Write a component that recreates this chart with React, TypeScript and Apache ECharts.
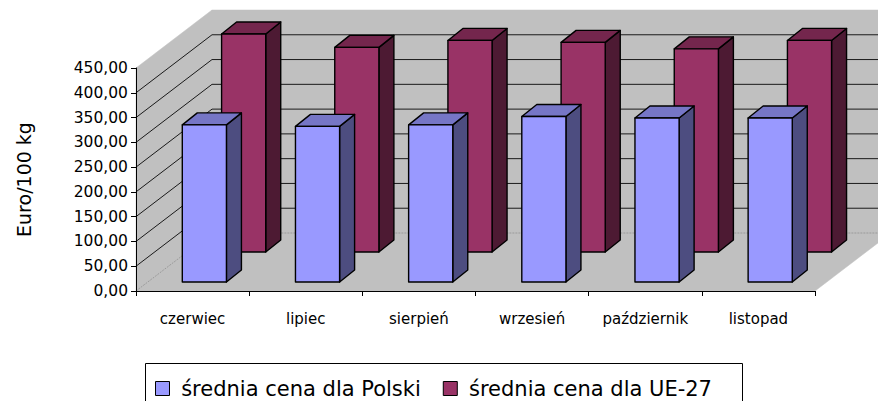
import React, { useEffect, useRef } from 'react';
import * as echarts from 'echarts';

// ---- data ----
const categories = ['czerwiec', 'lipiec', 'sierpień', 'wrzesień', 'październik', 'listopad'];
const polskaValues = [317, 314, 317, 334, 331, 331];
const ue27Values = [440, 413, 427, 423, 410, 427];
const seriesNames = ['średnia cena dla Polski', 'średnia cena dla UE-27'];
const yMin = 0;
const yMax = 450;
const yInterval = 50;
const yTitle = 'Euro/100 kg';

// ---- 3D look ----
const DEPTH_X = 76;
const DEPTH_Y = -58;
const BAR_DX = 15;
const BAR_DY = -12;
const WALL = '#C0C0C0';
const FONT = 'DejaVu Sans';

const blueColors = { front: '#9999FF', top: '#7676C6', side: '#4D4D80' };
const redColors = { front: '#993366', top: '#74264D', side: '#4D1A33' };

function barRenderer(frontFrac: number, colors: { front: string; top: string; side: string }) {
  return (params: any, api: any) => {
    const i = api.value(0);
    const v = api.value(1);
    const base = api.coord([i, 0]);
    const topPt = api.coord([i, v]);
    const band = api.size([1, 0])[0];
    const half = band * 0.195;
    const ox = frontFrac * DEPTH_X;
    const oy = frontFrac * DEPTH_Y;
    const L = base[0] - half + ox;
    const R = base[0] + half + ox;
    const B = base[1] + oy;
    const T = topPt[1] + oy;
    const stroke = { stroke: '#000', lineWidth: 1.4, lineJoin: 'round' };
    return {
      type: 'group',
      children: [
        {
          type: 'polygon',
          shape: { points: [[R, T], [R + BAR_DX, T + BAR_DY], [R + BAR_DX, B + BAR_DY], [R, B]] },
          style: { fill: colors.side, ...stroke },
        },
        {
          type: 'polygon',
          shape: { points: [[L, T], [R, T], [R + BAR_DX, T + BAR_DY], [L + BAR_DX, T + BAR_DY]] },
          style: { fill: colors.top, ...stroke },
        },
        {
          type: 'polygon',
          shape: { points: [[L, T], [R, T], [R, B], [L, B]] },
          style: { fill: colors.front, ...stroke },
        },
      ],
    };
  };
}

const renderWalls = (params: any, api: any) => {
  const cs = params.coordSys;
  const x0 = cs.x;
  const x1 = cs.x + cs.width;
  const yt = cs.y;
  const yb = cs.y + cs.height;
  const wallStyle = { fill: WALL, stroke: WALL, lineWidth: 0.5 };
  const children: any[] = [];
  children.push({
    type: 'polygon',
    shape: { points: [[x0 + DEPTH_X, yt + DEPTH_Y], [x1 + DEPTH_X + 40, yt + DEPTH_Y], [x1 + DEPTH_X + 40, yb + DEPTH_Y], [x0 + DEPTH_X, yb + DEPTH_Y]] },
    style: wallStyle,
  });
  children.push({
    type: 'polygon',
    shape: { points: [[x0, yb], [x1, yb], [x1 + DEPTH_X, yb + DEPTH_Y], [x0 + DEPTH_X, yb + DEPTH_Y]] },
    style: wallStyle,
  });
  children.push({
    type: 'polygon',
    shape: { points: [[x0, yt], [x0 + DEPTH_X, yt + DEPTH_Y], [x0 + DEPTH_X, yb + DEPTH_Y], [x0, yb]] },
    style: wallStyle,
  });
  for (let v = yMin + yInterval; v < yMax; v += yInterval) {
    const y = api.coord([0, v])[1];
    children.push({
      type: 'polyline',
      shape: { points: [[x0, y], [x0 + DEPTH_X, y + DEPTH_Y], [x1 + DEPTH_X + 40, y + DEPTH_Y]] },
      style: { stroke: '#1a1a1a', lineWidth: 1, fill: null },
    });
  }
  children.push({
    type: 'polyline',
    shape: { points: [[x0, yb], [x0 + DEPTH_X, yb + DEPTH_Y], [x1 + DEPTH_X + 40, yb + DEPTH_Y]] },
    style: { stroke: '#9a9a9a', lineWidth: 1, lineDash: [2, 1], fill: null },
  });
  return { type: 'group', children };
};

export default function App() {
  const ref = useRef<HTMLDivElement>(null);
  useEffect(() => {
    document.body.style.margin = '0';
    if (!ref.current) return;
    const chart = echarts.init(ref.current, null, { renderer: 'svg' });
    const fmt = (v: number) => v.toFixed(2).replace('.', ',');
    chart.setOption({
      animation: false,
      backgroundColor: '#fff',
      grid: { left: 136, right: 63, top: 68, bottom: 110, containLabel: false },
      xAxis: {
        type: 'category',
        data: categories,
        boundaryGap: true,
        axisLine: { lineStyle: { color: '#000', width: 1 } },
        axisTick: { show: true, length: 5, lineStyle: { color: '#000' } },
        axisLabel: { interval: 0, margin: 20, color: '#000', fontFamily: FONT, fontSize: 15 },
        splitLine: { show: false },
        z: 10,
      },
      yAxis: {
        type: 'value',
        min: yMin,
        max: yMax,
        interval: yInterval,
        name: yTitle,
        nameLocation: 'middle',
        nameRotate: 90,
        nameGap: 103,
        nameTextStyle: { color: '#000', fontFamily: FONT, fontSize: 19 },
        axisLine: { show: true, lineStyle: { color: '#000', width: 1 } },
        axisTick: { show: true, length: 5, lineStyle: { color: '#000' } },
        axisLabel: { margin: 8, color: '#000', fontFamily: FONT, fontSize: 15.5, formatter: fmt },
        splitLine: { show: false },
        z: 10,
      },
      legend: {
        data: [
          { name: seriesNames[0], itemStyle: { color: blueColors.front, borderColor: '#000', borderWidth: 1 } },
          { name: seriesNames[1], itemStyle: { color: redColors.front, borderColor: '#000', borderWidth: 1 } },
        ],
        formatter: (name: string) => ' ' + name,
        left: 155,
        top: 378,
        padding: 0,
        icon: 'rect',
        itemWidth: 14,
        itemHeight: 14,
        itemGap: 22,
        selectedMode: false,
        textStyle: { color: '#000', fontFamily: FONT, fontSize: 21 },
      },
      graphic: [
        {
          type: 'rect',
          z: -1,
          shape: { x: 145.5, y: 363.5, width: 597, height: 60 },
          style: { fill: '#fff', stroke: '#000', lineWidth: 1 },
        },
      ],
      series: [
        {
          type: 'custom',
          name: 'walls',
          silent: true,
          clip: false,
          data: [[0, 0]],
          renderItem: renderWalls,
          z: 1,
        },
        {
          type: 'custom',
          name: seriesNames[1],
          clip: false,
          itemStyle: { color: redColors.front },
          data: ue27Values.map((v, i) => [i, v]),
          encode: { x: 0, y: 1 },
          renderItem: barRenderer(0.672, redColors),
          z: 2,
        },
        {
          type: 'custom',
          name: seriesNames[0],
          clip: false,
          itemStyle: { color: blueColors.front },
          data: polskaValues.map((v, i) => [i, v]),
          encode: { x: 0, y: 1 },
          renderItem: barRenderer(0.155, blueColors),
          z: 3,
        },
      ],
    });
    return () => chart.dispose();
  }, []);
  return <div ref={ref} style={{ width: 878, height: 401 }} />;
}
